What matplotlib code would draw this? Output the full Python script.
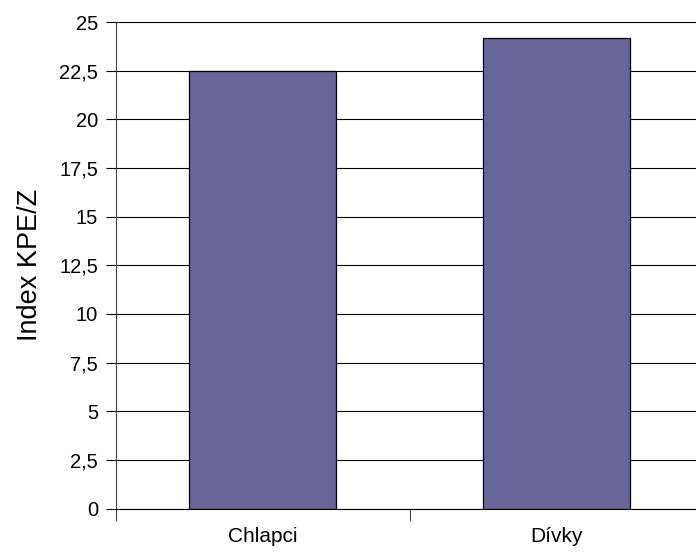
import matplotlib
matplotlib.use('Agg')
import matplotlib.pyplot as plt
from matplotlib.ticker import FuncFormatter, MultipleLocator

# Index KPE/Z by group
groups = ['Chlapci', 'Dívky']
kpe_index = [22.5, 24.2]

plt.rcParams['font.family'] = ['Liberation Sans', 'DejaVu Sans']

W, H = 696, 554
fig = plt.figure(figsize=(W / 100, H / 100), dpi=100)
ax = fig.add_axes([115.5 / W, (H - 508.5) / H, 588 / W, (508.5 - 22) / H])

x = list(range(len(groups)))
ax.bar(x, kpe_index, width=0.5, color='#666699', edgecolor='black',
       linewidth=0.9, zorder=3)

ax.set_xlim(-0.5, len(groups) - 0.5)
ax.set_ylim(0, 25)
ax.yaxis.set_major_locator(MultipleLocator(2.5))
ax.yaxis.set_major_formatter(FuncFormatter(
    lambda v, _: ('%g' % v).replace('.', ',')))
ax.grid(axis='y', color='black', linewidth=0.8, zorder=0)

# category labels centred, ticks on category boundaries
ax.set_xticks(x)
ax.set_xticklabels(groups, fontsize=15)
ax.tick_params(axis='x', length=0, pad=13.5)
ax.set_xticks([i - 0.5 for i in range(len(groups) + 1)], minor=True)
ax.tick_params(axis='x', which='minor', length=8.5, width=0.8, color='#444444')
ax.tick_params(axis='y', length=7.5, width=0.8, labelsize=14.5, pad=5)

for side in ('top', 'right'):
    ax.spines[side].set_visible(False)
ax.spines['left'].set_linewidth(0.8)
ax.spines['bottom'].set_linewidth(0.8)
ax.spines['left'].set_color('#444444')

ax.set_ylabel('Index KPE/Z', fontsize=19.5, labelpad=12)

fig.savefig('out.png', dpi=100)
